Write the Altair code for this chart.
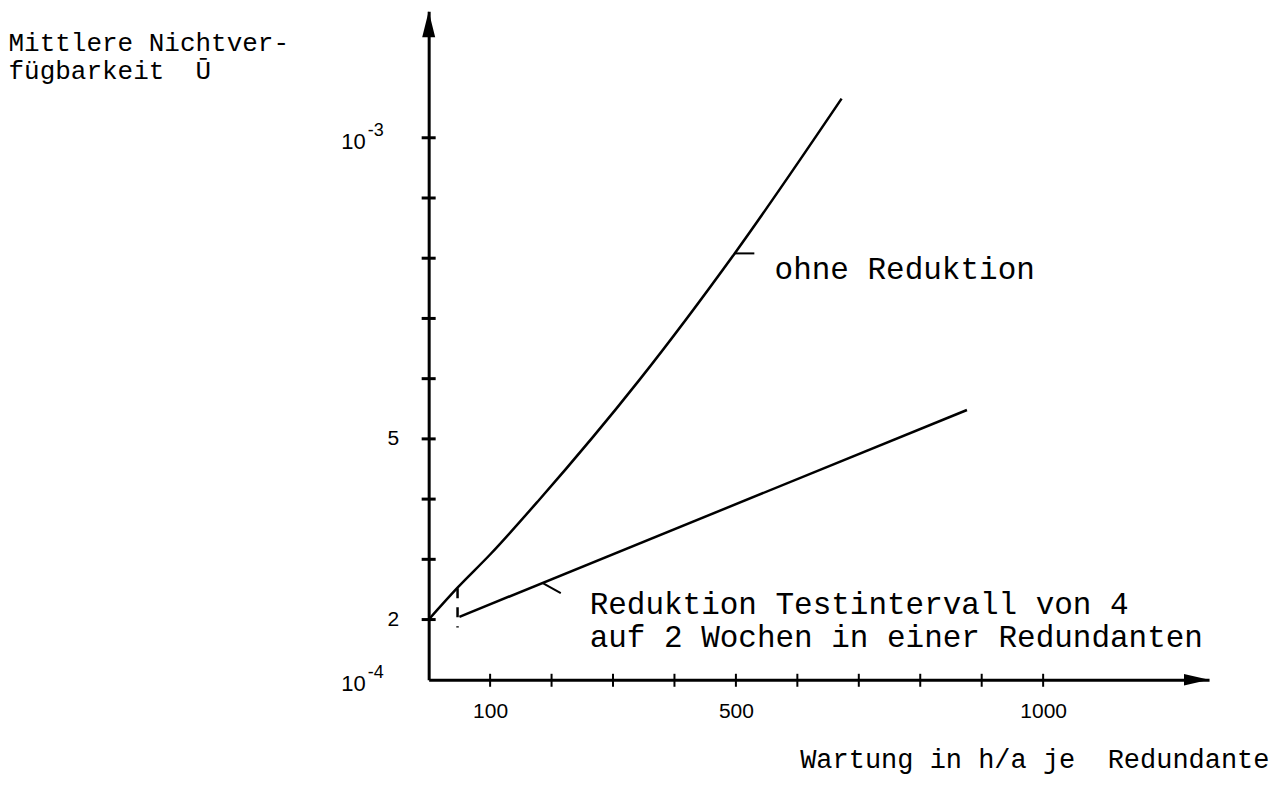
import altair as alt
import pandas as pd

# ---- data (x in h/a, y in units of 1e-4) ----
ohne_x = [0, 47, 100, 180, 343, 498, 672]
ohne_y = [2.0, 2.53, 3.08, 3.99, 5.98, 8.08, 10.65]

red_x = [50, 876]
red_y = [2.045, 5.48]

x_tick_values = [100, 200, 300, 400, 500, 600, 700, 800, 900, 1000]
y_tick_values = [2, 3, 4, 5, 6, 7, 8, 9, 10]

x_label_values = [100, 500, 1000]
x_label_texts = ["100", "500", "1000"]
y_label_values = [2, 5]
y_label_texts = ["2", "5"]
# decade labels 10^-4 (at 1) and 10^-3 (at 10)
dec_values = [1, 10]
dec_base = ["10", "10"]
dec_exp = ["-4", "-3"]

x_domain = [0, 1270]
y_domain = [1, 12.1]

# leader marks and marker
lead1_x = [498]
lead1_x2 = [530]
lead1_y = [8.08]
lead2_x = [185]
lead2_x2 = [215]
lead2_y = [2.61]
lead2_y2 = [2.44]
mark_x = [47]
mark_y = [2.52]
mark_y2 = [1.87]

ann_texts = ["ohne Reduktion", "Reduktion Testintervall von 4",
             "auf 2 Wochen in einer Redundanten"]
ann_x = [563, 262, 262]
ann_y = [7.80, 2.245, 1.70]

y_title = ["Mittlere Nichtver-", "fügbarkeit\u00a0 Ū"]
x_title = "Wartung in h/a je\u00a0 Redundante"

W, H = 781, 669
MONO = "Liberation Mono"
SANS = "Liberation Sans"

def label_expr(vals, texts):
    parts = " : ".join(
        f"datum.value == {v} ? '{t}'" for v, t in zip(vals, texts)
    )
    return parts + " : ''"

xscale = alt.Scale(domain=x_domain, nice=False, zero=False)
yscale = alt.Scale(domain=y_domain, nice=False, zero=False)

xaxis = alt.Axis(
    values=x_label_values, labelExpr=label_expr(x_label_values, x_label_texts),
    ticks=False, grid=False, domainWidth=3, domainColor="black",
    labelFont=SANS, labelFontSize=21, labelColor="black", labelPadding=21,
    labelBaseline="top", labelOverlap=False, labelFlush=False,
    title=x_title, titleFont=MONO, titleFontSize=27, titleFontWeight="normal",
    titleColor="black", titleAlign="right", titleAnchor="end",
    titleX=841, titleY=88, titleBaseline="alphabetic",
)
yaxis = alt.Axis(
    values=y_label_values, labelExpr=label_expr(y_label_values, y_label_texts),
    ticks=False, grid=False, domainWidth=3, domainColor="black",
    labelFont=SANS, labelFontSize=21, labelColor="black", labelPadding=30,
    labelBaseline="middle", labelOverlap=False, labelFlush=False,
    title=y_title, titleFont=MONO, titleFontSize=26, titleFontWeight="normal",
    titleColor="black", titleAngle=0, titleAlign="left", titleX=-421,
    titleY=39, titleBaseline="alphabetic", titleLineHeight=28,
)

def X(f):
    return alt.X(f, type="quantitative", scale=xscale, axis=xaxis)

def Y(f):
    return alt.Y(f, type="quantitative", scale=yscale, axis=yaxis)

ohne_df = pd.DataFrame({"x": ohne_x, "y": ohne_y})
red_df = pd.DataFrame({"x": red_x, "y": red_y})

line_ohne = alt.Chart(ohne_df).mark_line(
    color="black", strokeWidth=2.5, interpolate="monotone").encode(
    x=X("x"), y=Y("y"))
line_red = alt.Chart(red_df).mark_line(color="black", strokeWidth=2.5).encode(
    x=X("x"), y=Y("y"))

yt = alt.Chart(pd.DataFrame({"v": y_tick_values})).mark_rule(
    color="black", strokeWidth=3).encode(
    y=Y("v"), x=alt.value(-7), x2=alt.value(7))
xt = alt.Chart(pd.DataFrame({"v": x_tick_values})).mark_rule(
    color="black", strokeWidth=2).encode(
    x=X("v"), y=alt.value(H - 6), y2=alt.value(H + 7))

dec_df = pd.DataFrame({"v": dec_values, "x": [x_domain[0]] * 2,
                       "b": dec_base, "e": dec_exp})
dec_base_mark = alt.Chart(dec_df).mark_text(
    align="right", baseline="middle", font=SANS, fontSize=22, color="black",
    dx=-63, dy=4).encode(x=X("x"), y=Y("v"), text="b:N")
dec_exp_mark = alt.Chart(dec_df).mark_text(
    align="left", baseline="middle", font=SANS, fontSize=18, color="black",
    dx=-61, dy=-7).encode(x=X("x"), y=Y("v"), text="e:N")

arrow_up = alt.Chart(pd.DataFrame({"x": [x_domain[0]], "y": [y_domain[1]]})).mark_point(
    shape="M0,0L0.55,2.2L-0.55,2.2Z", filled=True, size=560, color="black",
    opacity=1).encode(x=X("x"), y=Y("y"))
arrow_right = alt.Chart(pd.DataFrame({"x": [x_domain[1]], "y": [y_domain[0]]})).mark_point(
    shape="M0,0L-2.2,-0.5L-2.2,0.5Z", filled=True, size=520, color="black",
    opacity=1).encode(x=X("x"), y=Y("y"))

lead1 = alt.Chart(pd.DataFrame({"x": lead1_x, "x2": lead1_x2, "y": lead1_y})).mark_rule(
    color="black", strokeWidth=2).encode(x=X("x"), x2="x2", y=Y("y"))
lead2 = alt.Chart(pd.DataFrame({"x": lead2_x, "x2": lead2_x2, "y": lead2_y,
                                "y2": lead2_y2})).mark_rule(
    color="black", strokeWidth=2).encode(x=X("x"), x2="x2", y=Y("y"), y2="y2")
marker = alt.Chart(pd.DataFrame({"x": mark_x, "y": mark_y, "y2": mark_y2})).mark_rule(
    color="black", strokeWidth=2.5, strokeDash=[10, 9]).encode(
    x=X("x"), y=Y("y"), y2="y2")

ann = alt.Chart(pd.DataFrame({"t": ann_texts, "x": ann_x, "y": ann_y})).mark_text(
    align="left", baseline="middle", font=MONO, fontSize=31, color="black").encode(
    x=X("x"), y=Y("y"), text="t:N")

chart = alt.layer(
    line_ohne, line_red, yt, xt, dec_base_mark, dec_exp_mark, arrow_up,
    arrow_right, lead1, lead2, marker, ann
).properties(
    width=W, height=H,
    autosize=alt.AutoSizeParams(type="none"),
    padding={"left": 421, "top": 3, "right": 62, "bottom": 100},
    background="white",
).configure_view(stroke=None)

chart.save("out.html", embed_options={"renderer": "svg", "actions": False})
